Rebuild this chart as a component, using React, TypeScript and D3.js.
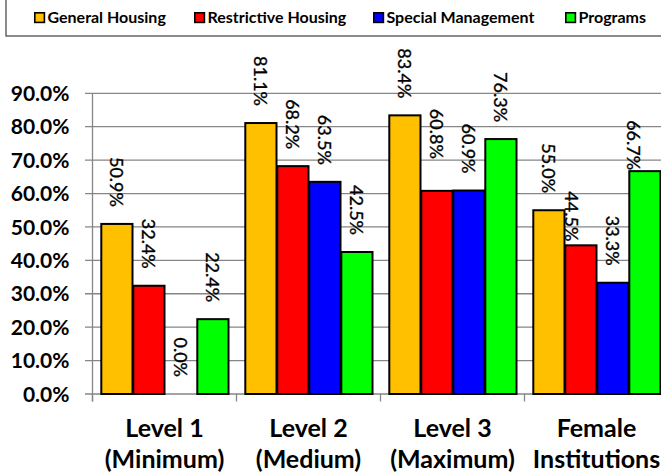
import { useEffect, useRef } from 'react'
import * as d3 from 'd3'

// categories, two lines each
const categories = ['Level 1', 'Level 2', 'Level 3', 'Female']
const categoryLines = [
  ['Level 1', '(Minimum)'],
  ['Level 2', '(Medium)'],
  ['Level 3', '(Maximum)'],
  ['Female', 'Institutions'],
]

const seriesNames = ['General Housing', 'Restrictive Housing', 'Special Management', 'Programs']
const generalHousing = [50.9, 81.1, 83.4, 55.0]
const restrictiveHousing = [32.4, 68.2, 60.8, 44.5]
const specialManagement = [0.0, 63.5, 60.9, 33.3]
const programs = [22.4, 42.5, 76.3, 66.7]
const yTicks = [0, 10, 20, 30, 40, 50, 60, 70, 80, 90]

const colors = ['#FFC000', '#FF0000', '#0000FF', '#00FF00']

// hand nudges of a few data labels, as in the source chart
const labelNudge: Record<string, { dx: number; dy: number }> = {
  'Restrictive Housing|Level 3': { dx: 0, dy: -15 },
  'Restrictive Housing|Female': { dx: -9, dy: 13 },
  'Programs|Female': { dx: -11, dy: 16 },
}

const legendX = [34, 194, 373, 565]

const W = 661
const H = 475

export default function App() {
  const svgRef = useRef<SVGSVGElement>(null)

  useEffect(() => {
    if (!svgRef.current) return
    const svg = d3.select(svgRef.current)
    svg.selectAll('*').remove()

    const seriesValues = [generalHousing, restrictiveHousing, specialManagement, programs]
    const plot = { left: 92.5, right: 668.5, top: 93.3, bottom: 394 }

    const x0 = d3.scaleBand().domain(categories).range([plot.left, plot.right]).padding(0)
    const x1 = d3.scaleBand().domain(seriesNames).range([8, x0.bandwidth() - 8]).padding(0)
    const y = d3.scaleLinear().domain([0, 90]).range([plot.bottom, plot.top])

    // legend box
    svg.append('rect')
      .attr('x', 6).attr('y', -5)
      .attr('width', W + 10).attr('height', 41)
      .attr('fill', 'white')
      .attr('stroke', '#404040')
      .attr('stroke-width', 1.2)

    const legend = svg.append('g')
    seriesNames.forEach((name, i) => {
      const g = legend.append('g').attr('transform', `translate(${legendX[i]},12)`)
      g.append('rect')
        .attr('x', 0.8).attr('y', 0.8)
        .attr('width', 9.6).attr('height', 9.6)
        .attr('fill', colors[i])
        .attr('stroke', 'black')
        .attr('stroke-width', 1.6)
      g.append('text')
        .attr('x', 13.5).attr('y', 10.5)
        .style('font-family', 'Lato, sans-serif')
        .style('font-weight', 700)
        .style('font-size', '16px')
        .text(name)
    })

    // gridlines
    svg.append('g')
      .selectAll('line')
      .data(yTicks)
      .enter().append('line')
      .attr('x1', plot.left - 7.5)
      .attr('x2', W)
      .attr('y1', d => y(d))
      .attr('y2', d => y(d))
      .attr('stroke', '#868686')
      .attr('stroke-width', 1.3)

    // y axis line
    svg.append('line')
      .attr('x1', plot.left).attr('x2', plot.left)
      .attr('y1', plot.top).attr('y2', plot.bottom + 7.5)
      .attr('stroke', '#868686')
      .attr('stroke-width', 1.3)

    // x ticks at category boundaries
    svg.append('g')
      .selectAll('line')
      .data(categories)
      .enter().append('line')
      .attr('x1', d => x0(d)!)
      .attr('x2', d => x0(d)!)
      .attr('y1', plot.bottom)
      .attr('y2', plot.bottom + 7.5)
      .attr('stroke', '#868686')
      .attr('stroke-width', 1.3)

    // y tick labels
    svg.append('g')
      .selectAll('text')
      .data(yTicks)
      .enter().append('text')
      .attr('x', 69.5)
      .attr('y', d => y(d))
      .attr('dy', '0.36em')
      .attr('text-anchor', 'end')
      .style('font-family', 'Lato, sans-serif')
      .style('font-weight', 700)
      .style('font-size', '21px')
      .text(d => `${d.toFixed(1)}%`)

    // bars
    const groups = svg.append('g')
      .selectAll('g')
      .data(categories)
      .enter().append('g')
      .attr('transform', d => `translate(${x0(d)},0)`)

    seriesNames.forEach((name, si) => {
      groups.append('rect')
        .attr('x', x1(name)! + 0.8)
        .attr('y', (_d, ci) => y(seriesValues[si][ci]))
        .attr('width', x1.bandwidth() - 0.8)
        .attr('height', (_d, ci) => plot.bottom - y(seriesValues[si][ci]))
        .attr('fill', colors[si])
        .attr('stroke', 'black')
        .attr('stroke-width', 2)
        .attr('display', (_d, ci) => (seriesValues[si][ci] === 0 ? 'none' : null))
    })

    // data labels, rotated
    seriesNames.forEach((name, si) => {
      groups.append('text')
        .attr('transform', (cat, ci) => {
          const n = labelNudge[`${name}|${cat}`] || { dx: 0, dy: 0 }
          const cx = x1(name)! + x1.bandwidth() / 2 + n.dx
          const cy = y(seriesValues[si][ci]) - 17 + n.dy
          return `translate(${cx},${cy}) rotate(90)`
        })
        .attr('text-anchor', 'end')
        .attr('dy', '0.36em')
        .style('font-family', 'Lato, sans-serif')
        .style('font-size', '18px')
        .style('stroke', 'black')
        .style('stroke-width', '0.35px')
        .text((_d, ci) => `${seriesValues[si][ci].toFixed(1)}%`)
    })

    // category labels
    const catLabels = svg.append('g')
      .selectAll('text')
      .data(categories)
      .enter().append('text')
      .attr('x', d => x0(d)! + x0.bandwidth() / 2)
      .attr('text-anchor', 'middle')
      .style('font-family', 'Lato, sans-serif')
      .style('font-weight', 700)
      .style('font-size', '25px')

    catLabels.append('tspan')
      .attr('x', d => x0(d)! + x0.bandwidth() / 2)
      .attr('y', 436.5)
      .text((_d, i) => categoryLines[i][0])
    catLabels.append('tspan')
      .attr('x', d => x0(d)! + x0.bandwidth() / 2)
      .attr('y', 468)
      .text((_d, i) => categoryLines[i][1])
  }, [])

  return (
    <svg
      ref={svgRef}
      width={W}
      height={H}
      style={{ position: 'absolute', left: 0, top: 0, background: 'white' }}
    />
  )
}
